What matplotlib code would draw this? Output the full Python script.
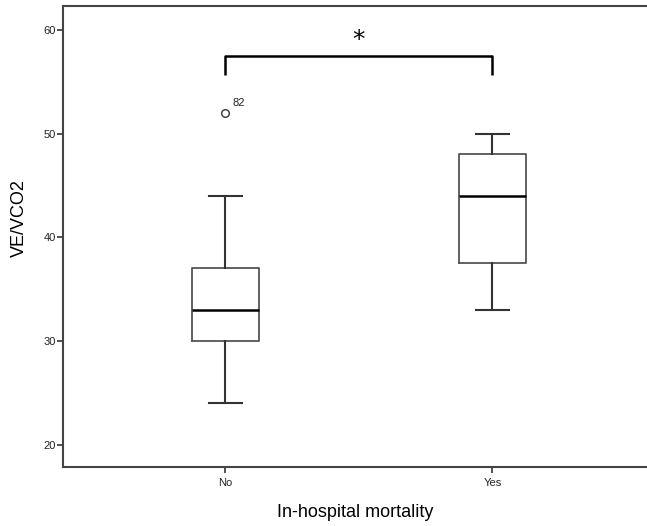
import matplotlib
matplotlib.use('Agg')
import matplotlib.pyplot as plt
from matplotlib import font_manager

# summary statistics per group (whisker low, Q1, median, Q3, whisker high)
groups = ['No', 'Yes']
whislo = [24, 33]
q1 = [30, 37.5]
med = [33, 44]
q3 = [37, 48]
whishi = [44, 50]
fliers = [[52], []]
flier_ids = [['82'], []]

bracket_y = 57.5
bracket_drop = 55.6
star_y = 59.0


def pick_family(names):
    have = {f.name for f in font_manager.fontManager.ttflist}
    return [n for n in names if n in have] or ['DejaVu Sans']


plt.rcParams['font.family'] = pick_family(['Liberation Sans', 'Arial'])
narrow = pick_family(['Liberation Sans Narrow', 'Liberation Sans'])

stats = []
for i, g in enumerate(groups):
    stats.append(dict(label=g, whislo=whislo[i], q1=q1[i], med=med[i],
                      q3=q3[i], whishi=whishi[i], fliers=fliers[i]))

fig = plt.figure(figsize=(6.47, 5.26), dpi=100)
ax = fig.add_axes([0.0966, 0.112, 0.9034, 0.8766])

ax.bxp(stats, positions=[1, 2], widths=0.251, capwidths=0.124,
       boxprops=dict(color='#555555', linewidth=1.3),
       whiskerprops=dict(color='#333333', linewidth=1.5),
       capprops=dict(color='#333333', linewidth=1.5),
       medianprops=dict(color='black', linewidth=1.8),
       flierprops=dict(marker='o', markersize=5.5, markerfacecolor='none',
                       markeredgecolor='#444444', markeredgewidth=1.1))

# case number next to the outlier
for i, ids in enumerate(flier_ids):
    for v, name in zip(fliers[i], ids):
        ax.annotate(name, (i + 1, v), xytext=(5, 5), textcoords='offset points',
                    fontsize=8, color='#222222')

# significance bracket
ax.plot([1, 1, 2, 2], [bracket_drop, bracket_y, bracket_y, bracket_drop],
        color='black', linewidth=1.8, solid_capstyle='butt')
ax.text(1.5, star_y, '*', ha='center', va='center', fontsize=18,
        family='DejaVu Sans')

ax.set_xlim(0.3895, 2.579)
ax.set_ylim(17.85, 62.3)
ax.set_yticks([20, 30, 40, 50, 60])
ax.set_xticks([1, 2])
ax.set_xticklabels(groups)
ax.tick_params(labelsize=8, length=4, width=1.2, color='#333333',
               labelcolor='#222222')
ax.tick_params(axis='y', pad=1)

for s in ['left', 'bottom', 'top']:
    ax.spines[s].set_linewidth(1.5)
    ax.spines[s].set_color('#444444')
ax.spines['right'].set_visible(False)

ax.set_ylabel('VE/VCO2', fontsize=13, family=narrow)
ax.yaxis.set_label_coords(-0.059, 0.54)
ax.set_xlabel('In-hospital mortality', fontsize=13, family=narrow)
ax.xaxis.set_label_coords(0.5, -0.08)

fig.savefig('out.png', dpi=100)
